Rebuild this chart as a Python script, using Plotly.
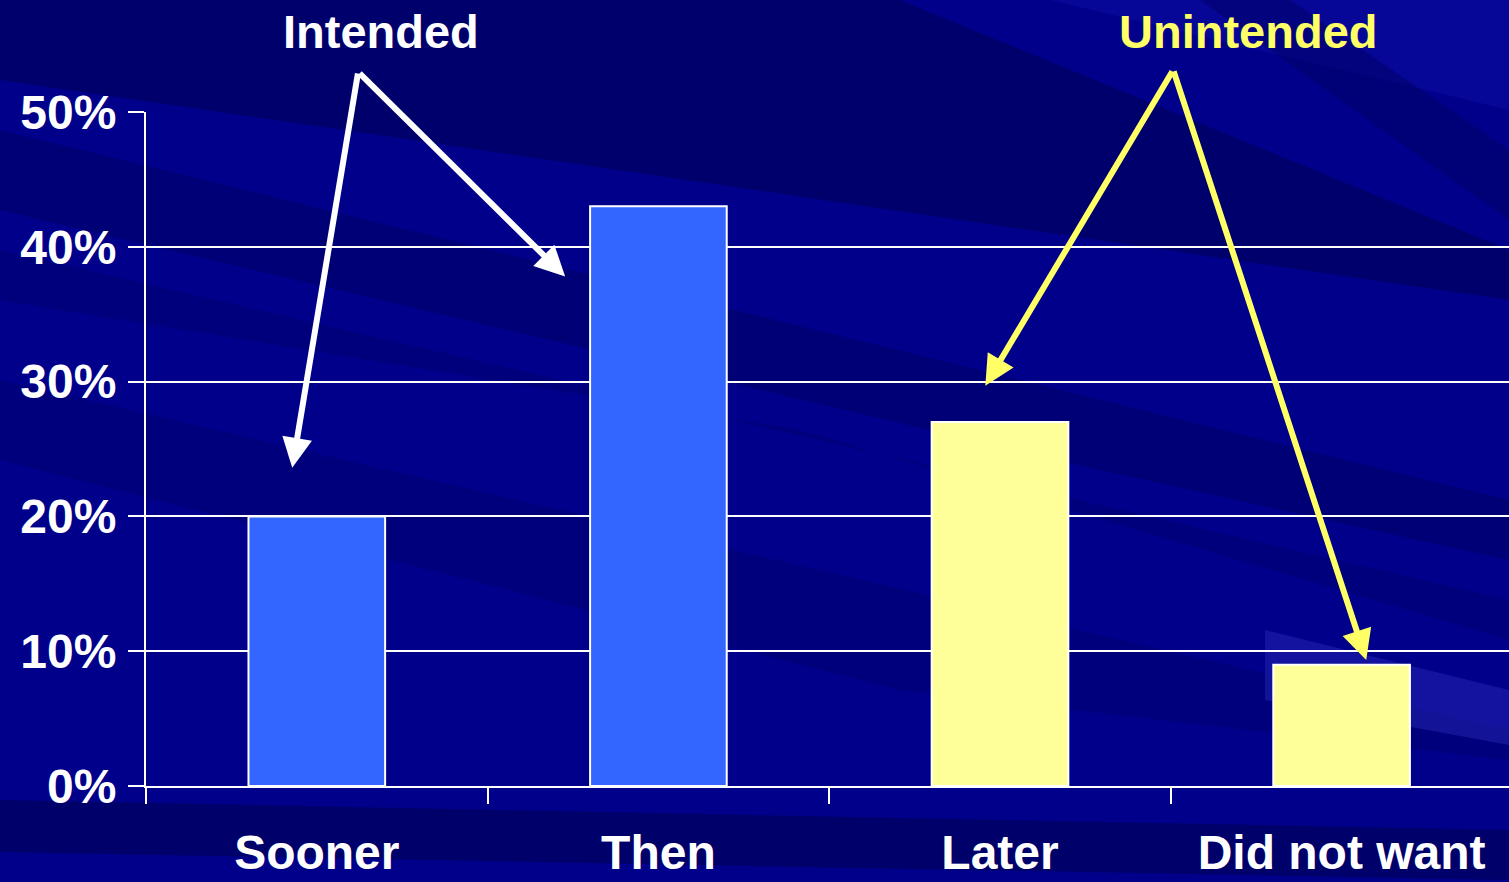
import plotly.graph_objects as go

# Pregnancy timing survey: share of responses per category
categories = ["Sooner", "Then", "Later", "Did not want"]
shares = [20, 43, 27, 9]
bar_colors = ["#3366FF", "#3366FF", "#FFFF99", "#FFFF99"]
y_ticks = [0, 10, 20, 30, 40, 50]
y_tick_labels = ["0%", "10%", "20%", "30%", "40%", "50%"]

W, H = 1509, 882
FONT = "Liberation Sans, Arial, Helvetica, sans-serif"

fig = go.Figure()
fig.add_trace(go.Bar(
    x=categories, y=shares,
    marker=dict(color=bar_colors, line=dict(color="white", width=2)),
    hoverinfo="skip",
))

# plot-area geometry in pixels
L, R, T, B = 146, 0, 112, 96
pw, ph = W - L - R, H - T - B


def px(xp, yp):
    """Pixel position -> paper coordinates."""
    return (xp - L) / pw, (H - B - yp) / ph


def poly(points, color, opacity):
    pts = [px(a, b) for a, b in points]
    path = "M " + " L ".join(f"{a:.4f},{b:.4f}" for a, b in pts) + " Z"
    return dict(type="path", path=path, xref="paper", yref="paper",
                fillcolor=color, opacity=opacity, line=dict(width=0), layer="below")


# diagonal background streaks
streaks = [
    poly([(0, 0), (900, 0), (1509, 250), (1509, 300), (0, 80)], "#000050", 0.5),
    poly([(0, 130), (0, 210), (1100, 470), (1509, 560), (1509, 500)], "#000058", 0.4),
    poly([(0, 250), (0, 300), (800, 430), (1509, 640), (1509, 600)], "#000060", 0.35),
    poly([(0, 380), (0, 460), (900, 690), (1509, 760), (1509, 730)], "#000060", 0.35),
    poly([(1050, 0), (1509, 0), (1509, 110)], "#1010B0", 0.35),
    poly([(1200, 0), (1290, 0), (1509, 150), (1509, 220)], "#000060", 0.45),
    poly([(1265, 630), (1509, 690), (1509, 745), (1265, 700)], "#2A2ABA", 0.45),
    poly([(0, 800), (0, 852), (1509, 880), (1509, 830)], "#000055", 0.6),
]

arrows = [
    # (tail x, tail y, head x, head y, colour)
    (0.121, 52.97, -0.072, 23.6, "white"),
    (0.121, 52.97, 0.727, 37.8, "white"),
    (2.507, 53.12, 1.957, 29.7, "#FFFF66"),
    (2.507, 53.12, 3.072, 9.35, "#FFFF66"),
]
annotations = []
for ax_, ay_, hx, hy, col in arrows:
    annotations.append(dict(
        x=hx, y=hy, ax=ax_, ay=ay_, xref="x", yref="y", axref="x", ayref="y",
        text="", showarrow=True, arrowhead=2, arrowsize=1.0, arrowwidth=6,
        arrowcolor=col, standoff=0, startstandoff=0,
    ))

for label, cx, color in [("Intended", 381, "white"), ("Unintended", 1248, "#FFFF66")]:
    x_p, y_p = px(cx, 31)
    annotations.append(dict(
        text=label, x=x_p, y=y_p, xref="paper", yref="paper",
        xanchor="center", yanchor="middle", showarrow=False,
        font=dict(family=FONT, size=47, color=color, weight="bold"),
    ))

fig.update_layout(
    width=W, height=H,
    margin=dict(l=L, r=R, t=T, b=B, pad=0, autoexpand=False),
    paper_bgcolor="#00008A",
    plot_bgcolor="rgba(0,0,0,0)",
    showlegend=False,
    bargap=0.6,
    shapes=streaks,
    annotations=annotations,
    font=dict(family=FONT, color="white"),
    xaxis=dict(
        type="category", range=[-0.5, 3.49], automargin=False,
        showline=True, linecolor="white", linewidth=2,
        showgrid=False, ticks="outside", tickson="boundaries",
        ticklen=16, tickwidth=2, tickcolor="white",
        ticklabelstandoff=23,
        tickfont=dict(family=FONT, size=48, color="white", weight="bold"),
        fixedrange=True,
    ),
    yaxis=dict(
        range=[0, 50], tickvals=y_ticks, ticktext=y_tick_labels, automargin=False,
        showline=True, linecolor="white", linewidth=2,
        showgrid=True, gridcolor="white", gridwidth=2,
        ticks="outside", ticklen=16, tickwidth=2, tickcolor="white",
        ticklabelstandoff=2,
        tickfont=dict(family=FONT, size=48, color="white", weight="bold"),
        zeroline=False, fixedrange=True,
    ),
)

fig.write_html("out.html", config={"displayModeBar": False})
